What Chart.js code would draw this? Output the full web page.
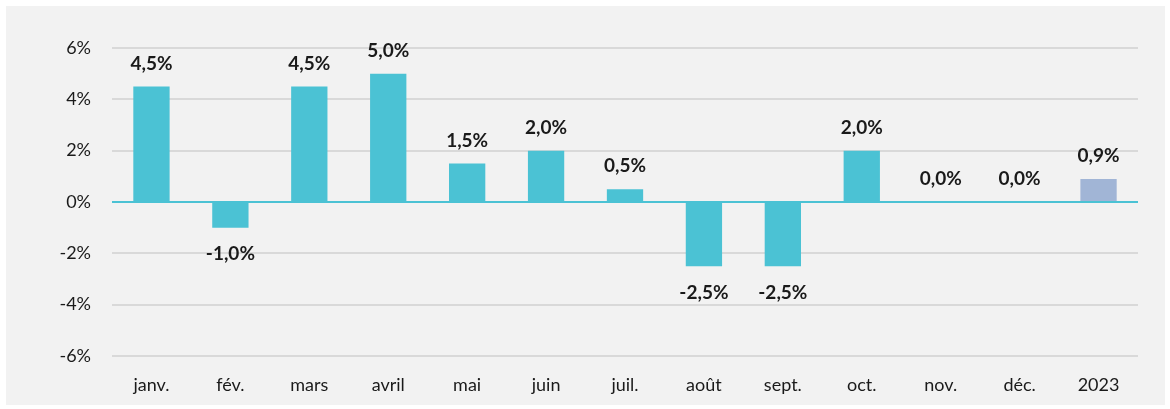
<!DOCTYPE html>
<html>
<head>
<meta charset="utf-8">
<script src="https://cdn.jsdelivr.net/npm/chart.js@4.4.1/dist/chart.umd.min.js"></script>
<style>
html,body{margin:0;padding:0;background:#fff;}
#wrap{position:relative;width:1170px;height:409px;}
</style>
</head>
<body>
<div id="wrap"><canvas id="c" width="1170" height="409"></canvas></div>
<script>
// ===== DATA =====
const months=['janv.','fév.','mars','avril','mai','juin','juil.','août','sept.','oct.','nov.','déc.','2023'];
const values=[4.5,-1.0,4.5,5.0,1.5,2.0,0.5,-2.5,-2.5,2.0,0.0,0.0,0.9];
const yTicks=[-6,-4,-2,0,2,4,6];

const CYAN='#4BC2D4',LAVENDER='#A1B5D6',GRID='#D9D9D9',PANEL='#F2F2F2',INK='#1a1a1a';
const FONT="'Lato','Open Sans',sans-serif";
const barColors=values.map((v,i)=>i===values.length-1?LAVENDER:CYAN);

// grey panel behind the chart
const panel={id:'panel',beforeDraw(ch){
  const c=ch.ctx;c.save();c.fillStyle=PANEL;c.fillRect(6,6,1159,399);c.restore();
}};
// value labels above / below bars
const valueLabels={id:'valueLabels',afterDatasetsDraw(ch){
  const c=ch.ctx,meta=ch.getDatasetMeta(0);
  c.save();c.font='bold 19px '+FONT;c.fillStyle=INK;c.textAlign='center';
  meta.data.forEach((bar,i)=>{
    const v=values[i],txt=v.toFixed(1).replace('.',',')+'%';
    if(v<0){c.textBaseline='top';c.fillText(txt,bar.x,bar.y+17);}
    else{c.textBaseline='alphabetic';c.fillText(txt,bar.x,bar.y-17);}
  });
  c.restore();
}};

new Chart(document.getElementById('c'),{type:'bar',
  data:{labels:months,datasets:[{data:values,backgroundColor:barColors,barPercentage:0.46,categoryPercentage:1}]},
  options:{responsive:false,animation:false,
    layout:{padding:{left:0,right:32,top:48,bottom:0}},
    plugins:{legend:{display:false},tooltip:{enabled:false}},
    scales:{
      y:{min:-6,max:6,
        afterBuildTicks(s){s.ticks=yTicks.map(v=>({value:v}));},
        afterFit(s){s.width=112;},
        border:{display:false},
        grid:{color:c=>c.tick&&c.tick.value===0?CYAN:GRID,lineWidth:2,drawTicks:false},
        ticks:{padding:21,color:INK,font:{family:FONT,size:18},callback:v=>v+'%'}},
      x:{afterFit(s){s.height=53;},
        border:{display:false},
        grid:{display:false,drawTicks:false},
        ticks:{padding:18,color:INK,font:{family:FONT,size:18},maxRotation:0,autoSkip:false}}
    }},
  plugins:[panel,valueLabels]});
</script>
</body>
</html>
